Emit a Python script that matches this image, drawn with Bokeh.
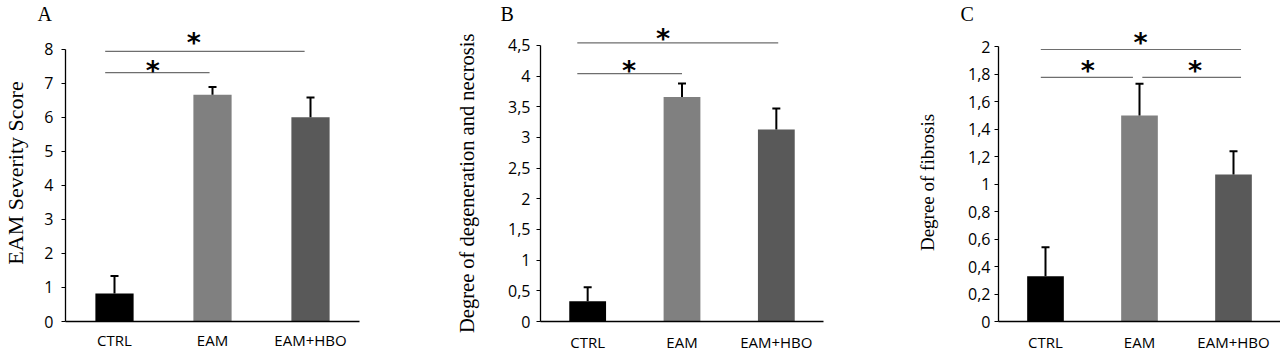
from bokeh.plotting import figure
from bokeh.layouts import row
from bokeh.models import (Range1d, FixedTicker, Whisker, TeeHead, ColumnDataSource,
                          CustomJSTickFormatter)
from bokeh.core.properties import value
from bokeh.embed import file_html
from bokeh.resources import INLINE

# ---------------- data ----------------
categories = ["CTRL", "EAM", "EAM+HBO"]
bar_colors = ["#000000", "#808080", "#595959"]

severity = [0.82, 6.66, 6.00]
severity_err = [0.52, 0.23, 0.58]

degeneration = [0.33, 3.66, 3.13]
degeneration_err = [0.23, 0.22, 0.34]

fibrosis = [0.33, 1.50, 1.07]
fibrosis_err = [0.21, 0.23, 0.17]

ticks_A = [0, 1, 2, 3, 4, 5, 6, 7, 8]
ticks_B = [0, 0.5, 1, 1.5, 2, 2.5, 3, 3.5, 4, 4.5]
ticks_C = [0, 0.2, 0.4, 0.6, 0.8, 1, 1.2, 1.4, 1.6, 1.8, 2]

# significance brackets: (start x, end x, level) in category units; stars: (x, y)
sig_A = [(0.405, 1.47, 7.31), (0.405, 2.44, 7.94)]
stars_A = [(0.89, 7.39), (1.31, 8.21)]
sig_B = [(0.39, 1.50, 4.04), (0.39, 2.52, 4.54)]
stars_B = [(0.94, 4.095), (1.30, 4.615)]
sig_C = [(0.45, 1.43, 1.777), (1.53, 2.58, 1.777), (0.45, 2.58, 1.98)]
stars_C = [(0.95, 1.826), (2.09, 1.826), (1.51, 2.029)]

TICK_FONT = "Open Sans"
SERIF = "Liberation Serif"
NBSP = "\u00a0"


def panel(letter, letter_offset, ylabel, ylabel_size, ylabel_standoff,
          vals, errs, ticks, yend, width, left, right, bottom, label_standoff, x_standoff,
          sig, stars):
    p = figure(width=width, height=354, x_range=Range1d(0, 3), y_range=Range1d(0, yend),
               output_backend="svg", toolbar_location=None,
               min_border_left=left, min_border_right=right,
               min_border_top=23, min_border_bottom=bottom)
    p.outline_line_color = None
    p.grid.visible = False
    p.background_fill_color = "white"
    p.border_fill_color = "white"

    # panel letter as the figure title
    p.title.text = letter
    p.title.align = "left"
    p.title.offset = letter_offset
    p.title.standoff = 0
    p.title.text_font = SERIF
    p.title.text_font_size = "20px"
    p.title.text_font_style = "normal"
    p.title.text_color = "black"

    xs = [i + 0.5 for i in range(len(categories))]
    src = ColumnDataSource(dict(x=xs, top=vals, upper=[v + e for v, e in zip(vals, errs)],
                                color=bar_colors, name=categories))
    p.vbar(x="x", top="top", width=0.39, fill_color="color", line_color=None, source=src)
    wk = Whisker(source=src, base="x", lower="top", upper="upper",
                 line_color="black", line_width=2,
                 upper_head=TeeHead(size=8, line_width=2, line_color="black"),
                 lower_head=None, level="annotation")
    p.add_layout(wk)

    for (x0, x1, lev) in sig:
        p.segment(x0=[x0], x1=[x1], y0=[lev], y1=[lev], line_color="#6e6e6e", line_width=1.2)
    p.text(x=[s[0] for s in stars], y=[s[1] for s in stars], text=["*"] * len(stars),
           text_font=value("DejaVu Sans"), text_font_style="bold", text_font_size="27px",
           text_align="center", text_baseline="middle", text_color="black")

    # x axis
    xa = p.xaxis[0]
    xa.ticker = FixedTicker(ticks=xs)
    xa.formatter = CustomJSTickFormatter(args=dict(names=categories),
                                         code="return names[Math.floor(tick)];")
    xa.major_tick_line_color = None
    xa.minor_tick_line_color = None
    xa.axis_line_color = "black"
    xa.axis_line_width = 1.3
    xa.major_label_text_font = TICK_FONT
    xa.major_label_text_font_size = "15px"
    xa.major_label_text_color = "black"
    xa.major_label_standoff = x_standoff

    # y axis
    ya = p.yaxis[0]
    ya.ticker = FixedTicker(ticks=ticks)
    ya.formatter = CustomJSTickFormatter(code="return String(tick).replace('.', ',');")
    ya.bounds = (0, ticks[-1])
    ya.major_tick_out = 4
    ya.major_tick_in = 0
    ya.minor_tick_line_color = None
    ya.axis_line_color = "black"
    ya.axis_line_width = 1.3
    ya.major_tick_line_color = "black"
    ya.major_label_text_font = TICK_FONT
    ya.major_label_text_font_size = "16px"
    ya.major_label_text_color = "black"
    ya.major_label_standoff = label_standoff
    ya.axis_label = ylabel
    ya.axis_label_text_font = SERIF
    ya.axis_label_text_font_style = "normal"
    ya.axis_label_text_font_size = ylabel_size
    ya.axis_label_text_color = "black"
    ya.axis_label_standoff = ylabel_standoff
    return p


pA = panel("A", -28, "EAM Severity Score", "22px", 13,
           severity, severity_err, ticks_A, 8.727, 430, 63, 71, 31, 8, 2, sig_A, stars_A)
pB = panel("B", -40, "Degree of degeneration and necrosis" + NBSP * 4, "20.5px", 27,
           degeneration, degeneration_err, ticks_B, 4.841, 450, 110, 57, 33, 6, 4, sig_B, stars_B)
pC = panel("C", -38, "Degree of fibrosis" + NBSP * 4, "19px", 27,
           fibrosis, fibrosis_err, ticks_C, 2.162, 400, 118, 0, 33, 4, 4, sig_C, stars_C)

layout = row(pA, pB, pC, spacing=0)
open("out.html", "w").write(file_html(layout, INLINE))
